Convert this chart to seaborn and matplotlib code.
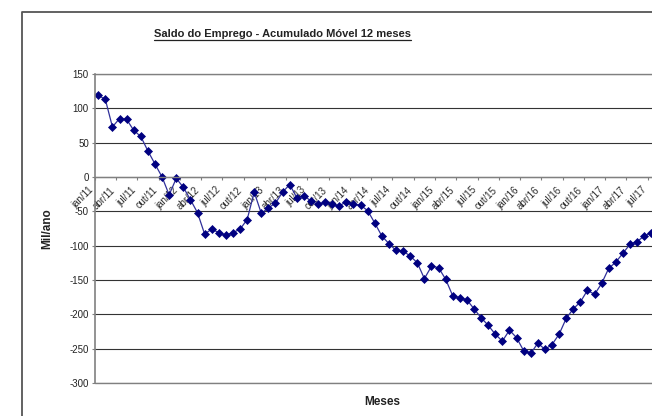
import matplotlib
matplotlib.use("Agg")
import matplotlib.pyplot as plt
from matplotlib.lines import Line2D
from matplotlib.transforms import ScaledTranslation
import numpy as np
import pandas as pd
import seaborn as sns

# Monthly categories, jan/11 .. jul/17
month_abbr = ["jan", "fev", "mar", "abr", "mai", "jun",
              "jul", "ago", "set", "out", "nov", "dez"]
years = ["11", "12", "13", "14", "15", "16", "17"]
months = [f"{m}/{y}" for y in years for m in month_abbr][:79]

# Net job creation, 12-month rolling sum (thousand per year)
saldo = [119, 113, 73, 85, 84, 68, 59, 38, 19, 0,
         -26, -2, -15, -33, -52, -83, -76, -81, -85, -81,
         -76, -62, -22, -53, -45, -38, -22, -11, -30, -27,
         -35, -40, -37, -40, -42, -36, -40, -41, -49, -67,
         -86, -97, -107, -108, -115, -125, -148, -130, -132, -149,
         -173, -176, -179, -192, -205, -216, -229, -239, -223, -234,
         -253, -257, -242, -251, -244, -229, -206, -192, -182, -165,
         -171, -155, -133, -124, -111, -98, -94, -86, -81]

tick_labels = months[::3]
y_ticks = [150, 100, 50, 0, -50, -100, -150, -200, -250, -300]
n_slots = 81  # category slots on the axis (through set/17)

df = pd.DataFrame({"pos": np.arange(len(saldo)), "mes": months, "saldo": saldo})

sns.set_theme(style="white")
plt.rcParams["font.family"] = ["Liberation Sans", "DejaVu Sans"]
plt.rcParams["axes.unicode_minus"] = False

W, H = 652, 416
fig = plt.figure(figsize=(W / 100, H / 100), dpi=100)
fig.patch.set_facecolor("white")

left_px, right_px, top_px, bottom_px = 94.7, 669.0, 74.0, 383.0
ax = fig.add_axes([left_px / W, 1 - bottom_px / H,
                   (right_px - left_px) / W, (bottom_px - top_px) / H])
ax.set_facecolor("white")

sns.lineplot(data=df, x="pos", y="saldo", ax=ax, color="#30309a", linewidth=0.9,
             marker="D", markersize=4.5, markerfacecolor="#000080",
             markeredgecolor="#000080", markeredgewidth=0.5, sort=False)

ax.set_xlim(-0.5, n_slots - 0.5)
ax.set_ylim(-300, 150)
ax.set_yticks(y_ticks)
ax.set_yticklabels([str(v) for v in y_ticks])
ax.yaxis.grid(True, color="#333333", linewidth=0.8)
ax.set_axisbelow(True)
# plot-area border lines at top and bottom
for edge in (150, -300):
    ax.axhline(edge, color="#808080", linewidth=1.0, clip_on=False, zorder=1)

# category axis crossing at zero
ax.spines["bottom"].set_position(("data", 0))
ax.spines["bottom"].set_color("#808080")
ax.spines["bottom"].set_linewidth(1.0)
ax.spines["left"].set_color("#808080")
ax.spines["left"].set_linewidth(1.2)
ax.spines["top"].set_visible(False)
ax.spines["right"].set_visible(False)

ax.set_xticks(df["pos"].values[::3])
ax.set_xticklabels(tick_labels, rotation=45, ha="right", va="top",
                   rotation_mode="anchor", fontsize=7, color="#2a2a2a")
ax.set_xticks(np.arange(-0.5, n_slots, 3), minor=True)
ax.tick_params(axis="x", which="major", length=0, pad=0)
ax.tick_params(axis="x", which="minor", length=2.2, width=0.8,
               color="#808080", direction="out", bottom=True)
ax.tick_params(axis="y", which="major", length=2.2, width=0.8,
               color="#808080", direction="out", left=True,
               labelsize=7, labelcolor="#222222", pad=2)

shift = ScaledTranslation(-0.10, -0.08, fig.dpi_scale_trans)
for lbl in ax.get_xticklabels():
    lbl.set_transform(lbl.get_transform() + shift)

ax.set_xlabel("Meses", fontsize=8.5, fontweight="bold", color="#222222")
ax.xaxis.set_label_coords((382 - left_px) / (right_px - left_px),
                          (bottom_px - 402) / (bottom_px - top_px))
ax.xaxis.label.set_va("center")
ax.set_ylabel("Mil/ano", fontsize=8.5, fontweight="bold", color="#222222")
ax.yaxis.set_label_coords((47 - left_px) / (right_px - left_px), 0.5)
ax.yaxis.label.set_va("center")

title = fig.text(282 / W, 1 - 34 / H, "Saldo do Emprego - Acumulado Móvel 12 meses",
                 ha="center", va="center", fontsize=8, fontweight="bold",
                 color="#222222")

# underline beneath the title
fig.canvas.draw()
bb = title.get_window_extent()
fig.add_artist(Line2D([bb.x0 / 100, bb.x1 / 100], [(H - 40) / 100, (H - 40) / 100],
                      transform=fig.dpi_scale_trans, color="#222222", linewidth=0.9))

# chart-area frame
fig.add_artist(Line2D([22 / 100, 22 / 100, W / 100], [0, (H - 12) / 100, (H - 12) / 100],
                      transform=fig.dpi_scale_trans, color="#555555", linewidth=1.3))

fig.savefig("out.png", dpi=100, facecolor="white")
